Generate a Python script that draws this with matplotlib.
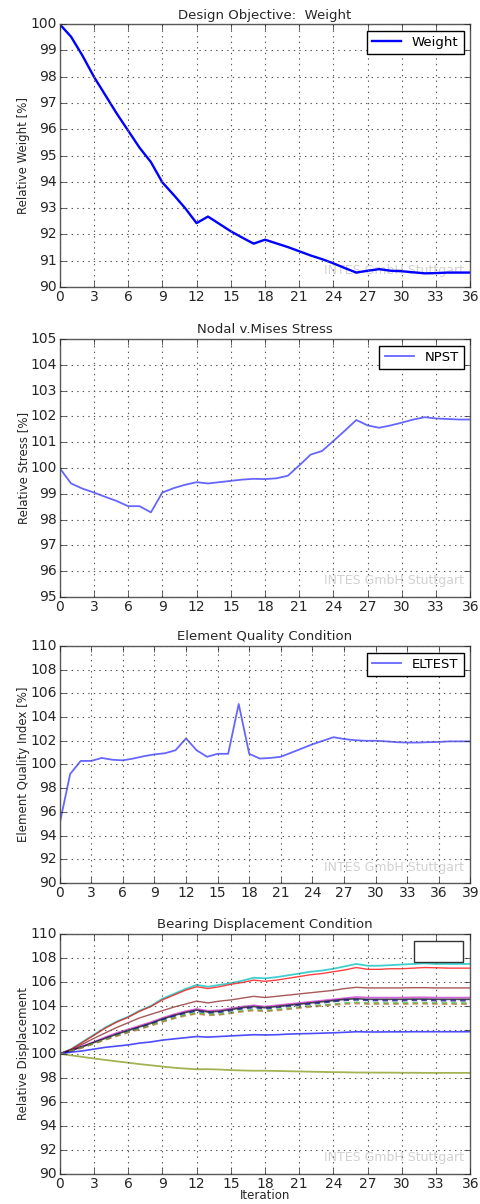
import matplotlib
matplotlib.use('Agg')
import matplotlib.pyplot as plt
from matplotlib.patches import Rectangle

# Design objective: weight
it_w = list(range(37))
weight = [100.0, 99.52, 98.8, 98.0, 97.3, 96.6, 95.95, 95.3, 94.75, 93.98, 93.5, 93.0,
          92.43, 92.68, 92.4, 92.12, 91.88, 91.65, 91.8, 91.66, 91.52, 91.36, 91.2, 91.06,
          90.9, 90.72, 90.55, 90.62, 90.68, 90.62, 90.6, 90.56, 90.52, 90.53, 90.55, 90.55, 90.55]

# Nodal v.Mises stress
it_s = list(range(37))
npst = [100.0, 99.4, 99.2, 99.05, 98.88, 98.72, 98.52, 98.52, 98.28, 99.05, 99.22, 99.35,
        99.45, 99.4, 99.45, 99.5, 99.55, 99.58, 99.57, 99.6, 99.7, 100.1, 100.52, 100.66,
        101.05, 101.45, 101.86, 101.65, 101.56, 101.65, 101.76, 101.88, 101.97, 101.92,
        101.9, 101.88, 101.88]

# Element quality
it_q = list(range(40))
eltest = [95.0, 99.2, 100.3, 100.3, 100.55, 100.4, 100.35, 100.5, 100.7, 100.85, 100.95,
          101.2, 102.2, 101.2, 100.65, 100.9, 100.9, 105.1, 100.9, 100.5, 100.55, 100.65,
          101.0, 101.35, 101.7, 102.0, 102.3, 102.15, 102.05, 102.0, 102.0, 101.95, 101.88,
          101.85, 101.85, 101.88, 101.9, 101.95, 101.95, 101.95]

# Bearing displacement
it_d = list(range(37))
disp_cyan = [100.0, 100.4, 101.0, 101.6, 102.2, 102.7, 103.1, 103.6, 104.0, 104.6, 105.0,
             105.4, 105.75, 105.6, 105.75, 105.9, 106.1, 106.35, 106.3, 106.4, 106.55, 106.7,
             106.85, 106.95, 107.1, 107.3, 107.5, 107.35, 107.35, 107.4, 107.45, 107.5,
             107.55, 107.5, 107.5, 107.5, 107.5]
disp_red = [100.0, 100.38, 100.95, 101.55, 102.15, 102.65, 103.05, 103.55, 103.95, 104.5,
            104.9, 105.3, 105.6, 105.45, 105.6, 105.8, 105.95, 106.15, 106.05, 106.15, 106.3,
            106.45, 106.6, 106.7, 106.85, 107.0, 107.2, 107.05, 107.05, 107.1, 107.1, 107.15,
            107.2, 107.18, 107.15, 107.15, 107.15]
disp_brown = [100.0, 100.35, 100.8, 101.3, 101.75, 102.2, 102.6, 103.0, 103.3, 103.6, 103.9,
              104.15, 104.4, 104.25, 104.4, 104.5, 104.65, 104.8, 104.7, 104.8, 104.9, 105.0,
              105.1, 105.2, 105.3, 105.45, 105.55, 105.5, 105.5, 105.5, 105.5, 105.52, 105.52,
              105.5, 105.5, 105.5, 105.5]
disp_mag = [100.0, 100.3, 100.65, 101.0, 101.4, 101.75, 102.05, 102.35, 102.65, 103.0,
            103.3, 103.55, 103.75, 103.6, 103.65, 103.8, 103.95, 104.05, 103.95, 104.05,
            104.15, 104.25, 104.35, 104.45, 104.55, 104.65, 104.75, 104.7, 104.7, 104.7,
            104.7, 104.72, 104.72, 104.7, 104.7, 104.7, 104.7]
disp_black = [100.0, 100.28, 100.6, 100.95, 101.3, 101.65, 101.95, 102.25, 102.55, 102.9,
              103.2, 103.45, 103.65, 103.5, 103.55, 103.7, 103.85, 103.95, 103.85, 103.95,
              104.05, 104.15, 104.25, 104.35, 104.45, 104.55, 104.6, 104.55, 104.55, 104.55,
              104.55, 104.57, 104.57, 104.55, 104.55, 104.55, 104.55]
disp_navy = [100.0, 100.27, 100.58, 100.92, 101.27, 101.6, 101.9, 102.2, 102.5, 102.85,
             103.15, 103.4, 103.58, 103.42, 103.48, 103.62, 103.78, 103.88, 103.78, 103.88,
             103.98, 104.08, 104.18, 104.28, 104.38, 104.48, 104.52, 104.48, 104.46, 104.46,
             104.46, 104.48, 104.48, 104.46, 104.45, 104.45, 104.45]
disp_green = [100.0, 100.25, 100.55, 100.88, 101.2, 101.52, 101.82, 102.1, 102.4, 102.72,
              103.0, 103.25, 103.42, 103.28, 103.32, 103.45, 103.6, 103.7, 103.62, 103.7,
              103.8, 103.9, 104.0, 104.08, 104.15, 104.25, 104.3, 104.25, 104.25, 104.25,
              104.25, 104.27, 104.27, 104.25, 104.25, 104.25, 104.25]
disp_orange = [100.0, 100.24, 100.52, 100.85, 101.17, 101.48, 101.78, 102.05, 102.35,
               102.66, 102.95, 103.18, 103.35, 103.22, 103.26, 103.38, 103.52, 103.62,
               103.55, 103.62, 103.72, 103.82, 103.92, 104.0, 104.08, 104.16, 104.2, 104.16,
               104.16, 104.16, 104.16, 104.18, 104.18, 104.16, 104.15, 104.15, 104.15]
disp_blue = [100.0, 100.15, 100.25, 100.4, 100.55, 100.65, 100.75, 100.9, 101.0, 101.15,
             101.25, 101.35, 101.45, 101.4, 101.45, 101.5, 101.55, 101.6, 101.58, 101.6,
             101.65, 101.68, 101.7, 101.73, 101.76, 101.8, 101.85, 101.83, 101.83, 101.84,
             101.84, 101.85, 101.85, 101.85, 101.85, 101.85, 101.85]
disp_olive = [100.0, 99.88, 99.75, 99.62, 99.5, 99.38, 99.27, 99.15, 99.05, 98.95, 98.85,
              98.78, 98.72, 98.73, 98.7, 98.65, 98.62, 98.6, 98.6, 98.58, 98.56, 98.54,
              98.52, 98.5, 98.48, 98.47, 98.45, 98.45, 98.44, 98.44, 98.43, 98.43, 98.42,
              98.42, 98.42, 98.42, 98.42]

plt.style.use('classic')
plt.rcParams['font.size'] = 9
plt.rcParams['figure.facecolor'] = 'white'
plt.rcParams['savefig.facecolor'] = 'white'
plt.rcParams['axes.formatter.useoffset'] = False
plt.rcParams['font.family'] = 'DejaVu Sans'

fig = plt.figure(figsize=(4.81, 12.04), dpi=100)

L, W = 0.124, 0.854
ax1 = fig.add_axes([L, 0.7616, W, 0.2184])
ax2 = fig.add_axes([L, 0.5042, W, 0.2142])
ax3 = fig.add_axes([L, 0.2666, W, 0.1969])
ax4 = fig.add_axes([L, 0.0250, W, 0.1993])


def style(ax, title, ylabel, xmax, ylim, ystep):
    ax.set_title(title, fontsize=9.5, pad=4, color='0.15')
    ax.set_ylabel(ylabel, fontsize=8.5, color='0.15', labelpad=0)
    ax.set_xlim(0, xmax)
    ax.set_ylim(*ylim)
    ax.set_xticks(range(0, xmax + 1, 3))
    ax.set_yticks(range(ylim[0], ylim[1] + 1, ystep))
    ax.tick_params(labelsize=10, colors='0.15', pad=2)
    ax.grid(True, color='0.35', linestyle=':', linewidth=0.8)
    for s in ax.spines.values():
        s.set_edgecolor('0.35')
    ax.text(0.985, 0.04, 'INTES GmbH Stuttgart', transform=ax.transAxes,
            ha='right', va='bottom', fontsize=9, color='0.82', zorder=0)


ax1.plot(it_w, weight, color='b', lw=1.7, label='Weight')
style(ax1, 'Design Objective:  Weight', 'Relative Weight [%]', 36, (90, 100), 1)
ax1.legend(loc='upper right', fontsize=9.5, numpoints=1, handlelength=2.2)

ax2.plot(it_s, npst, color='b', lw=1.3, alpha=0.6, label='NPST')
style(ax2, 'Nodal v.Mises Stress', 'Relative Stress [%]', 36, (95, 105), 1)
ax2.legend(loc='upper right', fontsize=9.5, numpoints=1, handlelength=2.2)

ax3.plot(it_q, eltest, color='b', lw=1.3, alpha=0.6, label='ELTEST')
style(ax3, 'Element Quality Condition', 'Element Quality Index [%]', 39, (90, 110), 2)
ax3.legend(loc='upper right', fontsize=9.5, numpoints=1, handlelength=2.2)

ax4.plot(it_d, disp_cyan, color='c', lw=1.3, alpha=0.75)
ax4.plot(it_d, disp_red, color='r', lw=1.0, alpha=0.75)
ax4.plot(it_d, disp_brown, color='#8b2020', lw=1.0, alpha=0.75)
ax4.plot(it_d, disp_mag, color='m', lw=1.2, alpha=0.6)
ax4.plot(it_d, disp_black, color='k', lw=1.2, alpha=0.7)
ax4.plot(it_d, disp_navy, color='#1a1a8c', lw=1.5, alpha=0.8, dashes=(4, 3))
ax4.plot(it_d, disp_green, color='#30c030', lw=1.3, alpha=0.7, dashes=(4, 3))
ax4.plot(it_d, disp_orange, color='#b07030', lw=1.3, alpha=0.7, dashes=(4, 3))
ax4.plot(it_d, disp_blue, color='b', lw=1.2, alpha=0.7)
ax4.plot(it_d, disp_olive, color='#9aaa40', lw=1.3, alpha=0.9)
style(ax4, 'Bearing Displacement Condition', 'Relative Displacement', 36, (90, 110), 2)
ax4.set_xlabel('Iteration', fontsize=8.5, color='0.15', labelpad=-1)
ax4.add_patch(Rectangle((0.862, 0.884), 0.121, 0.087, transform=ax4.transAxes,
                        facecolor='white', edgecolor='0.2', lw=1.0, zorder=5))

fig.savefig('out.png', dpi=100)
